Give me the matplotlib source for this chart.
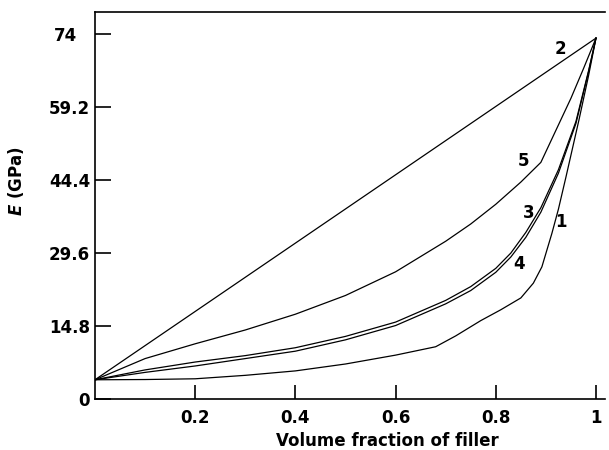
import matplotlib.pyplot as plt

plt.rcParams['font.family'] = ['DejaVu Sans']
plt.rcParams['mathtext.fontset'] = 'dejavusans'

# curve 1 (lowest)
x1 = [0, 0.1, 0.2, 0.3, 0.4, 0.5, 0.6, 0.68, 0.72, 0.77, 0.81, 0.85, 0.875,
      0.892, 0.912, 0.925, 0.94, 0.966, 0.985, 1.0]
e1 = [3.9, 3.95, 4.1, 4.8, 5.7, 7.1, 8.9, 10.6, 12.8, 15.9, 18.1, 20.5, 23.5,
      26.8, 33.6, 38.5, 45.0, 56.6, 65.5, 73.2]

# curve 2 (straight line)
x2 = [0, 1.0]
e2 = [3.9, 73.2]

# curve 3
x3 = [0, 0.1, 0.2, 0.3, 0.4, 0.5, 0.6, 0.7, 0.75, 0.8, 0.83, 0.86, 0.89,
      0.925, 0.96, 0.985, 1.0]
e3 = [3.9, 5.9, 7.5, 8.8, 10.4, 12.7, 15.6, 20.0, 22.8, 26.5, 29.6, 33.8,
      38.8, 46.5, 56.3, 66.5, 73.2]

# curve 4
x4 = [0, 0.1, 0.2, 0.3, 0.4, 0.5, 0.6, 0.7, 0.75, 0.8, 0.83, 0.86, 0.89,
      0.925, 0.96, 0.985, 1.0]
e4 = [3.9, 5.4, 6.7, 8.2, 9.7, 12.0, 14.9, 19.3, 22.0, 25.7, 28.8, 32.8,
      37.9, 45.8, 55.9, 66.3, 73.2]

# curve 5
x5 = [0, 0.1, 0.2, 0.3, 0.4, 0.5, 0.6, 0.7, 0.75, 0.8, 0.85, 0.89, 0.92,
      0.95, 0.975, 1.0]
e5 = [3.9, 8.2, 11.2, 14.0, 17.2, 21.0, 25.8, 32.0, 35.5, 39.5, 44.0, 48.0,
      54.5, 61.0, 67.0, 73.2]

labels = ['2', '5', '3', '4', '1']
label_x = [0.930, 0.856, 0.866, 0.846, 0.930]
label_y = [70.9, 48.2, 37.7, 27.4, 35.9]

xticks = [0.2, 0.4, 0.6, 0.8, 1]
xticklabels = ['0.2', '0.4', '0.6', '0.8', '1']
yticks = [0, 14.8, 29.6, 44.4, 59.2, 74]
yticklabels = ['0', '14.8', '29.6', '44.4', '59.2', '74']

fig = plt.figure(figsize=(6.09, 4.5), dpi=100)
ax = fig.add_axes([95/609, 51/450, 510/609, 387/450])

for xs, es in [(x1, e1), (x2, e2), (x3, e3), (x4, e4), (x5, e5)]:
    ax.plot(xs, es, color='black', linewidth=0.9)

for t, lx, ly in zip(labels, label_x, label_y):
    ax.text(lx, ly, t, fontsize=12, fontweight='bold', ha='center', va='center')

ax.set_xlim(0, 1.018)
ax.set_ylim(0, 78.5)
ax.set_xticks(xticks)
ax.set_xticklabels(xticklabels)
ax.set_yticks(yticks)
ax.set_yticklabels(yticklabels)
ax.tick_params(axis='x', direction='in', length=10, width=1.2, labelsize=12, pad=7)
ax.tick_params(axis='y', direction='in', length=11.5, width=1.2, labelsize=12, pad=3.5)
for lab in ax.get_xticklabels() + ax.get_yticklabels():
    lab.set_fontweight('bold')
# the "74" label sits a bit further left in the original
ax.yaxis.get_major_ticks()[-1].set_pad(13)

ax.spines['right'].set_visible(False)
for s in ['left', 'bottom', 'top']:
    ax.spines[s].set_linewidth(1.2)

ax.set_xlabel('Volume fraction of filler', fontsize=12, fontweight='bold')
ax.xaxis.set_label_coords(0.573, -0.085)
ax.set_ylabel(r'$\boldsymbol{E}$ (GPa)', fontsize=12, fontweight='bold')
ax.yaxis.set_label_coords(-0.135, 0.562)

fig.savefig('out.png', dpi=100)
